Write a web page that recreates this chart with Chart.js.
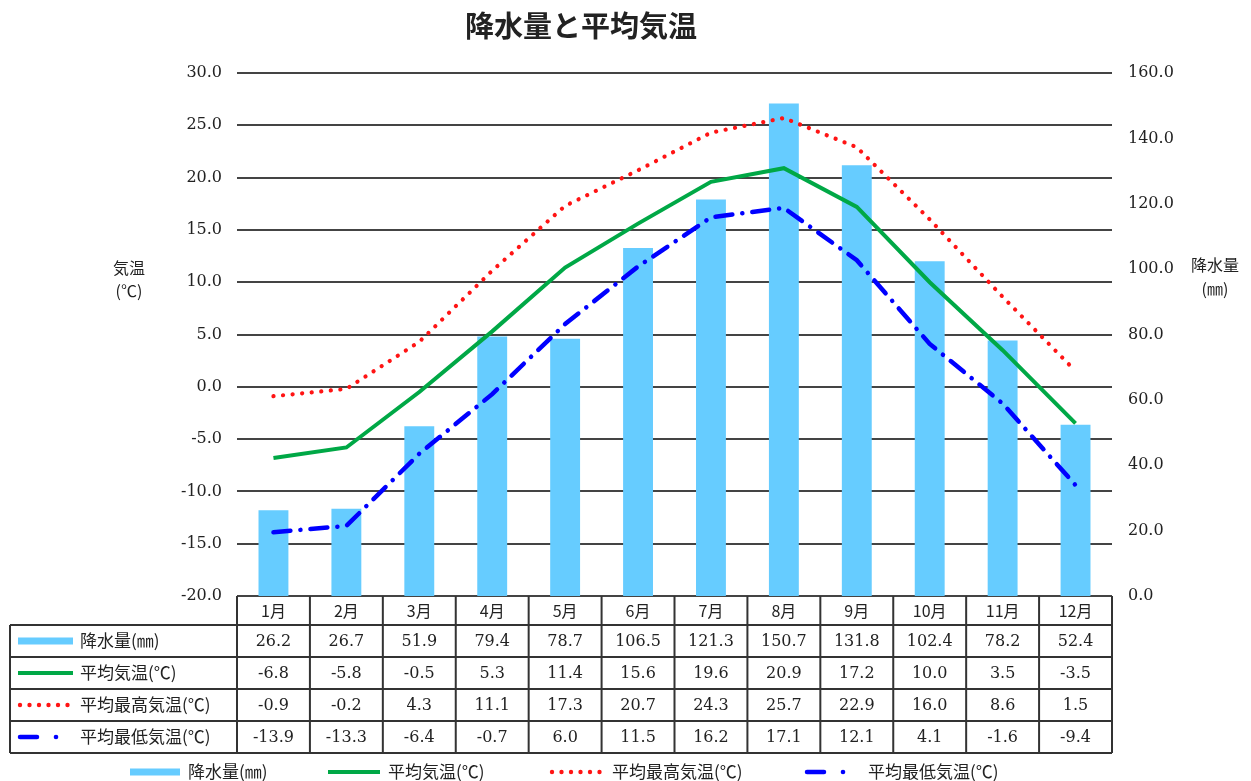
<!DOCTYPE html>
<html>
<head>
<meta charset="utf-8">
<script src="https://cdn.jsdelivr.net/npm/chart.js@4"></script>
<style>
html,body{margin:0;padding:0;background:#fff;}
#c{display:block;}
</style>
</head>
<body>
<canvas id="c" width="1251" height="781"></canvas>
<script>
const months = ['1月','2月','3月','4月','5月','6月','7月','8月','9月','10月','11月','12月'];
const precip = [26.2,26.7,51.9,79.4,78.7,106.5,121.3,150.7,131.8,102.4,78.2,52.4];
const avgTemp = [-6.8,-5.8,-0.5,5.3,11.4,15.6,19.6,20.9,17.2,10.0,3.5,-3.5];
const maxTemp = [-0.9,-0.2,4.3,11.1,17.3,20.7,24.3,25.7,22.9,16.0,8.6,1.5];
const minTemp = [-13.9,-13.3,-6.4,-0.7,6.0,11.5,16.2,17.1,12.1,4.1,-1.6,-9.4];
const seriesNames = ['降水量(㎜)','平均気温(℃)','平均最高気温(℃)','平均最低気温(℃)'];
const chartTitle = '降水量と平均気温';
const leftTitle = ['気温','(℃)'];
const rightTitle = ['降水量','(㎜)'];

const BLUE_BAR = 'rgb(102,204,255)';
const GREEN = 'rgb(0,168,70)';
const RED = 'rgb(255,20,20)';
const DBLUE = 'rgb(0,0,255)';
const GRID = '#444';
const TXT = '#222';
const NUMFONT = '"DejaVu Serif","Liberation Serif","Noto Sans CJK JP",serif';
const JPFONT = '"Noto Sans CJK JP","Liberation Serif",sans-serif';

function drawMarker(ctx, kind, x0, x1, y){
  ctx.save();
  if(kind===0){
    ctx.strokeStyle=BLUE_BAR; ctx.lineWidth=7; ctx.lineCap='butt';
    ctx.beginPath(); ctx.moveTo(x0,y); ctx.lineTo(x1,y); ctx.stroke();
  } else if(kind===1){
    ctx.strokeStyle=GREEN; ctx.lineWidth=4; ctx.lineCap='butt';
    ctx.beginPath(); ctx.moveTo(x0,y); ctx.lineTo(x1,y); ctx.stroke();
  } else if(kind===2){
    ctx.fillStyle=RED;
    for(let x=x0+2; x<=x1; x+=9.5){ ctx.beginPath(); ctx.arc(x,y,2.2,0,Math.PI*2); ctx.fill(); }
  } else {
    ctx.strokeStyle=DBLUE; ctx.lineWidth=4.5; ctx.lineCap='round';
    ctx.beginPath(); ctx.moveTo(x0+2,y); ctx.lineTo(x0+19,y); ctx.stroke();
    ctx.fillStyle=DBLUE; ctx.beginPath(); ctx.arc(x0+38,y,2.3,0,Math.PI*2); ctx.fill();
  }
  ctx.restore();
}

const decor = {
  id:'decor',
  afterDraw(chart){
    const ctx = chart.ctx;
    const ca = chart.chartArea;
    const xs = chart.scales.x;
    ctx.save();
    // title
    ctx.fillStyle=TXT; ctx.textAlign='center'; ctx.textBaseline='middle';
    ctx.font='bold 29px '+JPFONT;
    ctx.fillText(chartTitle, 581, 26);
    // axis titles
    ctx.font='16px '+JPFONT;
    ctx.fillText(leftTitle[0], 129, 268);
    ctx.fillText(leftTitle[1], 129, 291);
    ctx.fillText(rightTitle[0], 1215, 265);
    ctx.fillText(rightTitle[1], 1215, 289);

    // table
    const rowsY = [ca.bottom, 625, 657, 689, 721, 753];
    const tabLeft = 10;
    const n = months.length;
    const colW = (ca.right-ca.left)/n;
    ctx.strokeStyle='#333'; ctx.lineWidth=2;
    ctx.beginPath();
    for(let r=1;r<rowsY.length;r++){
      ctx.moveTo(tabLeft, rowsY[r]); ctx.lineTo(ca.right, rowsY[r]);
    }
    ctx.moveTo(tabLeft, rowsY[1]); ctx.lineTo(tabLeft, rowsY[5]);
    for(let i=0;i<=n;i++){
      const x = ca.left + i*colW;
      ctx.moveTo(x, rowsY[0]); ctx.lineTo(x, rowsY[5]);
    }
    ctx.stroke();

    // header
    ctx.fillStyle=TXT; ctx.textAlign='center'; ctx.textBaseline='middle';
    ctx.font='16px '+JPFONT;
    months.forEach((m,i)=>{
      ctx.fillText(m, xs.getPixelForValue(i), (rowsY[0]+rowsY[1])/2);
    });
    const allRows=[precip, avgTemp, maxTemp, minTemp];
    allRows.forEach((arr,r)=>{
      const yc=(rowsY[r+1]+rowsY[r+2])/2+1;
      ctx.font='16px '+NUMFONT;
      ctx.textAlign='center';
      arr.forEach((v,i)=>{
        ctx.fillText(v.toFixed(1), xs.getPixelForValue(i), yc);
      });
      drawMarker(ctx, r, 18, 73, yc-1);
      ctx.font='17px '+JPFONT; ctx.textAlign='left';
      ctx.fillText(seriesNames[r], 80, yc-1);
    });

    // bottom legend
    const ly = 772;
    const leg = [
      {k:0, m0:130, m1:180, t:188},
      {k:1, m0:328, m1:380, t:388},
      {k:2, m0:550, m1:608, t:612},
      {k:3, m0:805, m1:845, t:868}
    ];
    leg.forEach((l,i)=>{
      drawMarker(ctx, l.k, l.m0, l.m1, ly);
      ctx.fillStyle=TXT; ctx.font='17px '+JPFONT; ctx.textAlign='left'; ctx.textBaseline='middle';
      ctx.fillText(seriesNames[i], l.t, ly);
    });
    ctx.restore();
  }
};

new Chart(document.getElementById('c'), {
  data:{
    labels: months,
    datasets:[
      {type:'line', label:seriesNames[1], data:avgTemp, yAxisID:'y', borderColor:GREEN, borderWidth:4, pointRadius:0, tension:0, order:1},
      {type:'line', label:seriesNames[2], data:maxTemp, yAxisID:'y', borderColor:RED, borderWidth:4.2, borderDash:[0.1,9.5], borderCapStyle:'round', pointRadius:0, tension:0, order:1},
      {type:'line', label:seriesNames[3], data:minTemp, yAxisID:'y', borderColor:DBLUE, borderWidth:4.5, borderDash:[17,10,0.1,10], borderCapStyle:'round', pointRadius:0, tension:0, order:1},
      {type:'bar', label:seriesNames[0], data:precip, yAxisID:'y1', backgroundColor:BLUE_BAR, borderWidth:0, barPercentage:0.41, categoryPercentage:1.0, order:2}
    ]
  },
  options:{
    responsive:false,
    animation:false,
    devicePixelRatio:1,
    layout:{padding:{top:73,bottom:185,left:0,right:0}},
    plugins:{legend:{display:false}, title:{display:false}, tooltip:{enabled:false}},
    scales:{
      x:{type:'category', display:false, offset:true},
      y:{
        position:'left', min:-20, max:30,
        afterFit(s){ s.width=237; },
        ticks:{stepSize:5, padding:15, color:TXT, font:{family:NUMFONT, size:16}, callback:v=>Number(v).toFixed(1)},
        grid:{color:GRID, lineWidth:2, drawTicks:false},
        border:{display:false}
      },
      y1:{
        position:'right', min:0, max:160,
        afterFit(s){ s.width=139; },
        ticks:{stepSize:20, padding:16, color:TXT, font:{family:NUMFONT, size:16}, callback:v=>Number(v).toFixed(1)},
        grid:{display:false, drawTicks:false},
        border:{display:false}
      }
    }
  },
  plugins:[decor]
});
</script>
</body>
</html>
